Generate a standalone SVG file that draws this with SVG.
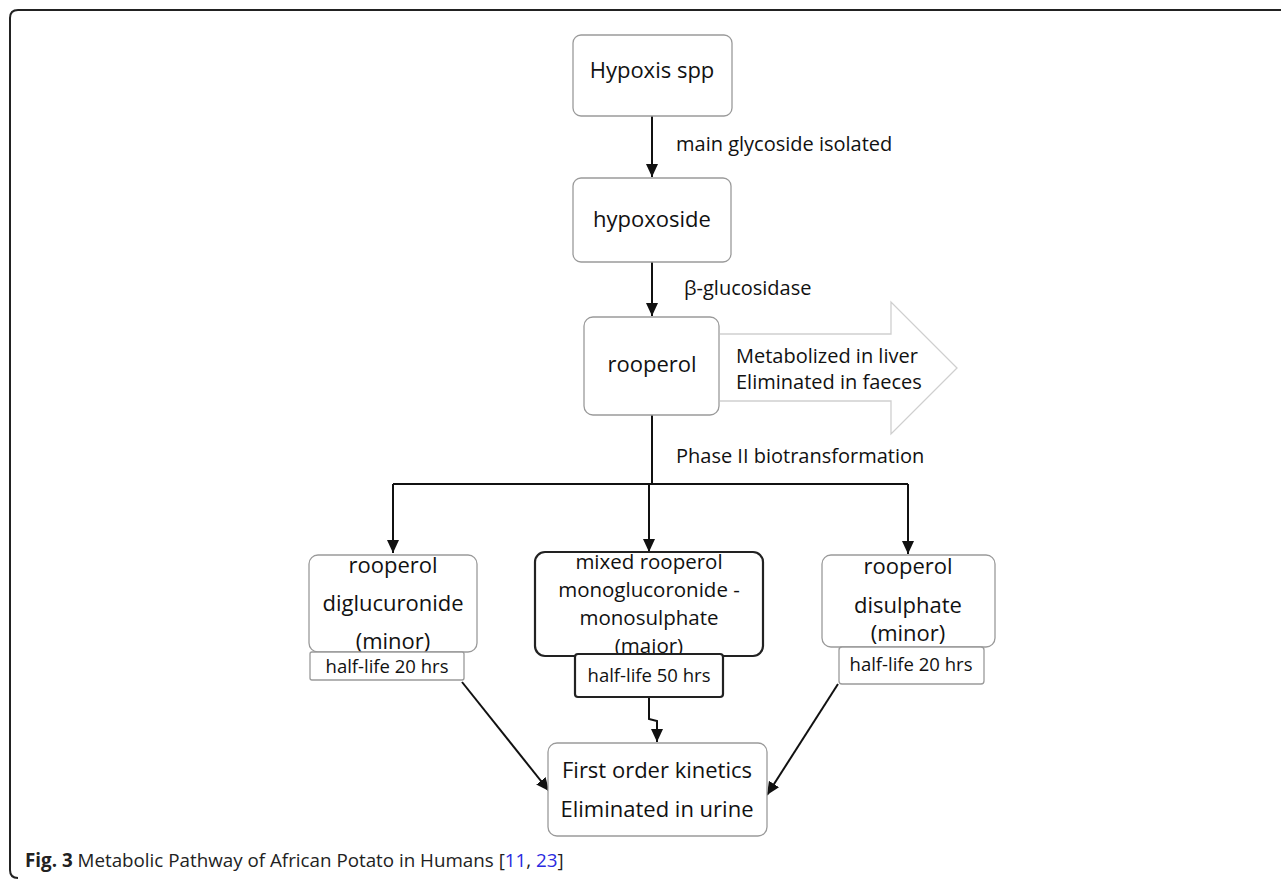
<svg xmlns="http://www.w3.org/2000/svg" width="1281" height="881" viewBox="0 0 1281 881">
<style>
.box{fill:#fff;stroke:#9a9a9a;stroke-width:1.3}
.boxd{fill:#fff;stroke:#222;stroke-width:2.2}
.t{font-family:"Open Sans","Liberation Sans",sans-serif;font-size:22px;fill:#111;text-anchor:middle}
.m{font-family:"Open Sans","Liberation Sans",sans-serif;font-size:20.5px;fill:#111;text-anchor:middle}
.s{font-family:"Open Sans","Liberation Sans",sans-serif;font-size:20px;fill:#111}
.h{font-family:"Open Sans","Liberation Sans",sans-serif;font-size:18.5px;fill:#111;text-anchor:middle}
.c{fill:none;stroke:#111;stroke-width:2}
</style>
<defs>
<marker id="ah" markerUnits="userSpaceOnUse" markerWidth="14" markerHeight="14" viewBox="0 0 14 14" refX="13" refY="7" orient="auto">
<path d="M0 1 L13 7 L0 13 Z" fill="#111"/>
</marker>
</defs>
<rect width="1281" height="881" fill="#fff"/>
<path d="M1290 10 H18 Q10 10 10 18 V870 Q10 878 18 878" fill="none" stroke="#222" stroke-width="2"/>

<g id="big-arrow">
<path d="M720 334 H891 V302 L957 368 L891 434 V401 H720" fill="#fff" stroke="#cfcfcf" stroke-width="1.3"/>
<text class="s" x="736" y="363">Metabolized in liver</text>
<text class="s" x="736" y="389">Eliminated in faeces</text>
</g>

<g id="connectors">
<path class="c" d="M652 116 V177" marker-end="url(#ah)"/>
<path class="c" d="M652 262 V316" marker-end="url(#ah)"/>
<path class="c" d="M652 415 V484"/>
<path class="c" d="M393 484 H908"/>
<path class="c" d="M393 484 V553" marker-end="url(#ah)"/>
<path class="c" d="M649 484 V552" marker-end="url(#ah)"/>
<path class="c" d="M908 484 V554" marker-end="url(#ah)"/>
<path class="c" d="M649 697 V719 L657 721 V742" marker-end="url(#ah)"/>
<path class="c" d="M462 682 L549 791" marker-end="url(#ah)"/>
<path class="c" d="M838 684 L767 795" marker-end="url(#ah)"/>
<text class="s" x="676" y="151">main glycoside isolated</text>
<text class="s" x="684" y="295">β-glucosidase</text>
<text class="s" x="676" y="463">Phase II biotransformation</text>
</g>

<g id="hypoxis">
<rect class="box" x="573" y="35" width="159" height="81" rx="8"/>
<text class="t" x="652" y="78">Hypoxis spp</text>
</g>
<g id="hypoxoside">
<rect class="box" x="573" y="178" width="158" height="84" rx="8"/>
<text class="t" x="652" y="227">hypoxoside</text>
</g>
<g id="rooperol">
<rect class="box" x="584" y="317" width="135" height="98" rx="9"/>
<text class="t" x="652" y="372">rooperol</text>
</g>

<g id="diglucuronide">
<rect class="box" x="309" y="555" width="168" height="97" rx="9"/>
<text class="t" x="393" y="573">rooperol</text>
<text class="t" x="393" y="611">diglucuronide</text>
<text class="t" x="393" y="649">(minor)</text>
<rect class="box" x="310" y="652" width="154" height="28" rx="2"/>
<text class="h" x="387" y="673">half-life 20 hrs</text>
</g>

<g id="mixed">
<rect class="boxd" x="535" y="552" width="228" height="104" rx="10"/>
<text class="m" x="649" y="569">mixed rooperol</text>
<text class="m" x="649" y="597">monoglucoronide -</text>
<text class="m" x="649" y="625">monosulphate</text>
<text class="m" x="649" y="653">(major)</text>
<rect class="boxd" x="575" y="654" width="148" height="43" rx="3"/>
<text class="h" x="649" y="682">half-life 50 hrs</text>
</g>

<g id="disulphate">
<rect class="box" x="822" y="555" width="173" height="92" rx="9"/>
<text class="t" x="908" y="574">rooperol</text>
<text class="t" x="908" y="613">disulphate</text>
<text class="t" x="908" y="641">(minor)</text>
<rect class="box" x="839" y="647" width="145" height="37" rx="3"/>
<text class="h" x="911" y="671">half-life 20 hrs</text>
</g>

<g id="urine">
<rect class="box" x="548" y="743" width="219" height="93" rx="9"/>
<text class="t" x="657" y="778">First order kinetics</text>
<text class="t" x="657" y="817">Eliminated in urine</text>
</g>

<g id="caption">
<text x="25" y="867" font-family="'Open Sans','Liberation Sans',sans-serif" font-size="18.8" fill="#222"><tspan font-weight="bold">Fig. 3</tspan> Metabolic Pathway of African Potato in Humans [<tspan fill="#2a2ae0">11</tspan>, <tspan fill="#2a2ae0">23</tspan>]</text>
</g>
</svg>
